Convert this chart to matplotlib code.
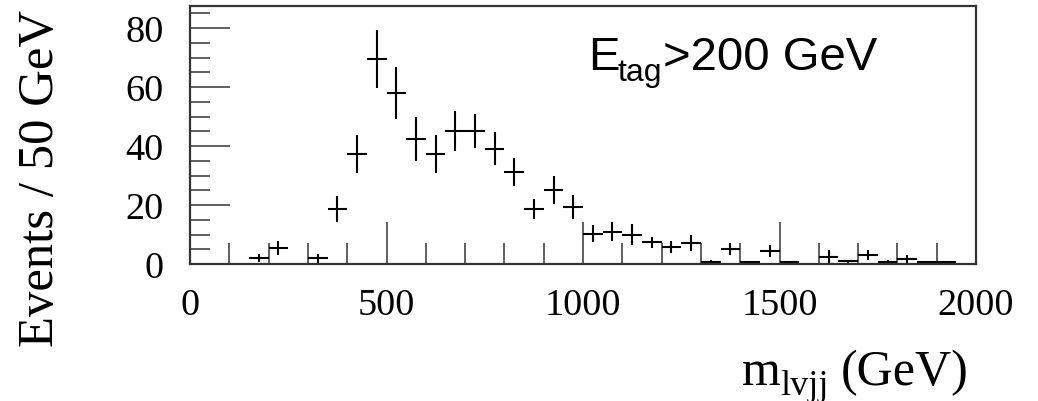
import numpy as np
import matplotlib
matplotlib.use('Agg')
import matplotlib.pyplot as plt
from matplotlib.ticker import MultipleLocator

# m_lvjj bins of 50 GeV (only bins with entries)
bin_centers = [175, 225, 325, 375, 425, 475, 525, 575, 625, 675, 725, 775, 825,
               875, 925, 975, 1025, 1075, 1125, 1175, 1225, 1275, 1325, 1375,
               1425, 1475, 1525, 1625, 1675, 1725, 1775, 1825, 1875, 1925]
events = [2.0, 5.5, 2.0, 18.7, 37.2, 69.6, 57.9, 42.3, 37.2, 45.2, 45.2, 39.1, 31.1,
          18.7, 25.0, 19.3, 10.3, 11.0, 9.9, 7.3, 5.7, 7.1, 0.8, 5.1,
          0.7, 4.4, 0.6, 2.5, 1.0, 3.1, 0.8, 1.7, 0.7, 0.7]
errors = [1.4, 2.3, 1.5, 4.3, 6.5, 9.9, 8.8, 7.5, 6.5, 6.8, 5.7, 5.5, 4.8,
          3.4, 4.8, 4.0, 3.0, 3.3, 3.5, 1.8, 2.0, 2.6, 0.4, 2.0,
          0.4, 2.0, 0.3, 2.3, 0.5, 1.8, 0.4, 1.4, 0.3, 0.3]
half_bin = 25

x_ticks = [0, 500, 1000, 1500, 2000]
y_ticks = [0, 20, 40, 60, 80]

serif = 'Liberation Serif'
sans = 'Liberation Sans'

W, H = 1038, 402


def px_text(x, y, s, **kw):
    # text placed in pixel coords of the figure (y measured from top)
    return fig.text(x / W, 1 - y / H, s, **kw)


fig = plt.figure(figsize=(W / 100, H / 100), dpi=100)
ax = fig.add_axes([190 / W, 1 - 265 / H, 786 / W, 258 / H])

ax.errorbar(bin_centers, events, xerr=half_bin, yerr=errors, fmt='none',
            ecolor='black', elinewidth=1.5, capsize=0)

ax.set_xlim(0, 2000)
ax.set_ylim(0, 87.5)
ax.set_xticks(x_ticks)
ax.set_yticks(y_ticks)
ax.xaxis.set_minor_locator(MultipleLocator(100))
ax.yaxis.set_minor_locator(MultipleLocator(5))

ax.tick_params(axis='both', which='both', direction='in', top=False, right=False,
               color='#444444', width=1.2)
ax.tick_params(axis='x', which='major', length=30, pad=17)
ax.tick_params(axis='x', which='minor', length=15)
ax.tick_params(axis='y', which='major', length=29, pad=19)
ax.tick_params(axis='y', which='minor', length=14.5)

for lab in ax.get_xticklabels() + ax.get_yticklabels():
    lab.set_fontfamily(serif)
    lab.set_fontsize(27.5)

for sp in ax.spines.values():
    sp.set_color('#333333')
    sp.set_linewidth(1.6)

# y axis title
px_text(41, 178, 'Events / 50 GeV', rotation=90, ha='center', va='center',
        fontfamily=serif, fontsize=36.5)

# x axis title, subscript drawn by hand
px_text(742, 385, 'm', ha='left', va='baseline', fontfamily=serif, fontsize=36)
px_text(780, 395, 'lvjj', ha='left', va='baseline', fontfamily=serif, fontsize=26)
px_text(841, 385, '(GeV)', ha='left', va='baseline', fontfamily=serif, fontsize=36)

# selection label
px_text(588, 70, 'E', ha='left', va='baseline', fontfamily=sans, fontsize=34)
px_text(617, 81.5, 'tag', ha='left', va='baseline', fontfamily=sans, fontsize=23)
px_text(663, 70, '>200 GeV', ha='left', va='baseline', fontfamily=sans, fontsize=34)

fig.savefig('out.png', dpi=100)
